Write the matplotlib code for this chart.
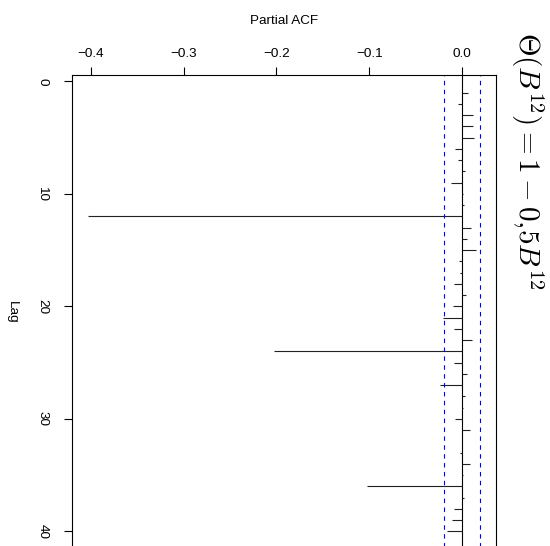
import numpy as np
import matplotlib.pyplot as plt

plt.rcParams['font.family'] = ['Liberation Sans', 'DejaVu Sans']
plt.rcParams['mathtext.fontset'] = 'cm'

# sample partial autocorrelations, lags 1..40
lags = np.arange(1, 41)
pacf = [0.0057, -0.0047, 0.0115, 0.0120, 0.0130, -0.0075, -0.0047, 0.0032, -0.0122, 0.0007,
        0.0020, -0.4030, 0.0093, 0.0050, 0.0147, -0.0036, -0.0020, -0.0086, 0.0036, -0.0097,
        -0.0205, -0.0090, 0.0108, -0.2026, -0.0086, 0.0050, -0.0235, 0.0032, 0.0005, -0.0083,
        0.0079, -0.0007, -0.0020, 0.0086, 0.0010, -0.1027, 0.0018, -0.0093, -0.0108, -0.0160]
clim = 0.0196
xticks = [-0.4, -0.3, -0.2, -0.1, 0.0]
yticks = [0, 10, 20, 30, 40]

W, H = 550, 546
fig = plt.figure(figsize=(W / 100, H / 100), dpi=100)
ax = fig.add_axes([72 / W, 1 - 549 / H, (496 - 72) / W, (549 - 75) / H])

ax.hlines(lags, 0, pacf, color='#222222', lw=0.8)
ax.axvline(0, color='black', lw=0.8)
for c in (-clim, clim):
    ax.axvline(c, color='blue', lw=0.8, linestyle=(0, (4, 4)))

ax.set_xlim(-0.4201, 0.0363)
ax.set_ylim(41.56, -0.56)

ax.xaxis.tick_top()
ax.xaxis.set_label_position('top')
ax.set_xticks(xticks)
ax.set_xticklabels([f'{t:.1f}'.replace('-', '\u2212') for t in xticks], fontsize=9.7)
ax.set_yticks(yticks)
ax.set_yticklabels([str(t) for t in yticks], fontsize=9.7, rotation=-90, va='center')
ax.tick_params(axis='x', length=6, width=0.8, pad=5)
ax.tick_params(axis='y', length=6, width=0.8, pad=11)
ax.set_xlabel('Partial ACF', fontsize=9.7, labelpad=17)
ax.set_ylabel('Lag', fontsize=9.7, rotation=-90, labelpad=18, va='center')
for s in ax.spines.values():
    s.set_linewidth(0.8)

fig.text(527 / W, 1 - 161 / H, r'$\Theta(B^{12}) = 1 - 0{,}5B^{12}$',
         fontsize=21, rotation=-90, ha='center', va='center')

fig.savefig('out.png', dpi=100)
